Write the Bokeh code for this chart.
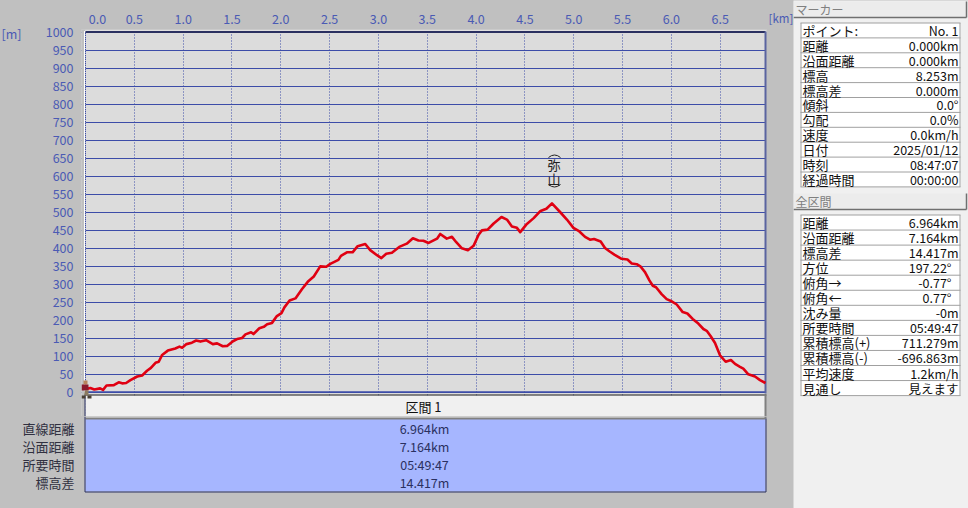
from bokeh.plotting import figure
from bokeh.layouts import row, column
from bokeh.models import Range1d, FixedTicker, Label, NumeralTickFormatter
from bokeh.core.properties import value
from bokeh.embed import file_html
from bokeh.resources import INLINE

# ---- data ----
km = [0,.05,.09,.15,.18,.215,.29,.34,.375,.416,.46,.53,.58,.63,.67,.717,.75,.785,.843,.92,.962,.99,
      1.034,1.09,1.133,1.177,1.235,1.304,1.348,1.406,1.45,1.51,1.553,1.604,1.638,1.696,1.72,1.78,1.826,
      1.86,1.91,1.96,2.007,2.037,2.09,2.15,2.218,2.276,2.338,2.404,2.466,2.507,2.59,2.616,2.677,2.735,
      2.787,2.865,2.916,2.985,3.03,3.08,3.138,3.213,3.29,3.353,3.41,3.46,3.514,3.6,3.633,3.7,3.753,
      3.797,3.855,3.916,3.974,4.026,4.06,4.118,4.18,4.26,4.316,4.367,4.418,4.452,4.514,4.59,4.66,4.72,
      4.777,4.86,4.93,4.997,5.058,5.116,5.167,5.208,5.276,5.32,5.365,5.42,5.49,5.55,5.594,5.645,5.686,
      5.73,5.775,5.81,5.843,5.9,5.952,6.003,6.055,6.116,6.164,6.218,6.276,6.328,6.362,6.403,6.447,6.474,
      6.498,6.556,6.61,6.652,6.703,6.737,6.788,6.857,6.908,6.964]
elev = [8,11,7,10,6,18,19,27,24,25,33,43,46,59,67,81,84,103,115,121,126,123,
        133,137,143,140,144,133,135,127,128,141,147,150,160,166,161,177,181,
        188,192,211,219,235,254,260,286,306,321,349,348,356,367,378,388,388,
        405,411,394,380,372,384,387,403,412,427,421,420,414,426,439,426,431,
        416,399,394,406,437,449,451,468,486,479,460,456,444,465,483,503,509,
        524,500,479,456,446,431,423,425,418,400,391,381,370,368,357,355,348,
        333,310,295,291,272,258,252,243,222,218,203,190,175,170,155,136,118,
        102,84,89,78,70,65,49,43,33,25]
x_ticks = [0,.5,1,1.5,2,2.5,3,3.5,4,4.5,5,5.5,6,6.5]
y_ticks = list(range(0,1001,50))
peak_name = ["弥","山"]

section_title = "区間 1"
section_labels = ["直線距離","沿面距離","所要時間","標高差"]
section_values = ["6.964km","7.164km","05:49:47","14.417m"]

marker_title = "マーカー"
marker_labels = ["ポイント:","距離","沿面距離","標高","標高差","傾斜","勾配","速度","日付","時刻","経過時間"]
marker_values = ["No. 1","0.000km","0.000km","8.253m","0.000m","0.0°","0.0%","0.0km/h","2025/01/12","08:47:07","00:00:00"]
total_title = "全区間"
total_labels = ["距離","沿面距離","標高差","方位","俯角→","俯角←","沈み量","所要時間","累積標高(+)","累積標高(-)","平均速度","見通し"]
total_values = ["6.964km","7.164km","14.417m","197.22°","-0.77°","0.77°","-0m","05:49:47","711.279m","-696.863m","1.2km/h","見えます"]
total_inset = [0,0,0,7,7,7,0,0,0,0,0,0]

# ---- style ----
GREY="#c0c0c0"; PANEL="#f0f0f0"; PLOT="#dcdcdc"; BLUE="#3c4ca8"; TICK="#4a5ab4"; NAVY="#2a3060"
CJK="Noto Sans CJK JP"; NUM="Noto Sans CJK JP"; NUMSIZE="12.5px"
BOT=416   # page row where the chart block ends and the section table begins

def blank(w,h,xr,yr,bg):
    f=figure(width=w,height=h,x_range=Range1d(*xr),y_range=Range1d(*yr),output_backend="svg",
             toolbar_location=None,min_border=0,background_fill_color=bg,border_fill_color=bg,outline_line_color=None)
    f.axis.visible=False; f.grid.visible=False; f.frame_align=False
    return f

# ---- chart: page-pixel helpers for the frame furniture ----
KPP=max(km)/680; MPP=1000/360
xp=lambda px:(px-85)*KPP
yp=lambda py:(391.5-py)*MPP

p=figure(width=737,height=BOT,frame_width=686,frame_height=BOT-29,
         x_range=Range1d(xp(81),xp(767)),y_range=Range1d(yp(BOT),yp(29)),
         x_axis_location="above",output_backend="svg",toolbar_location=None,
         min_border_left=51,min_border_right=0,min_border_top=29,min_border_bottom=0,
         background_fill_color=PLOT,border_fill_color=GREY,outline_line_color=None)
p.frame_align=False
zero_lab=xp(97)
p.xaxis[0].ticker=FixedTicker(ticks=[zero_lab]+x_ticks[1:])
p.xaxis[0].formatter=NumeralTickFormatter(format="0.0")
p.xaxis[0].major_label_overrides={zero_lab:"0.0"}
p.yaxis[0].ticker=FixedTicker(ticks=y_ticks)
for ax in (p.xaxis[0],p.yaxis[0]):
    ax.major_tick_line_color=None; ax.minor_tick_line_color=None; ax.major_tick_out=0; ax.major_tick_in=0
    ax.axis_line_color=None
    ax.major_label_text_color=TICK; ax.major_label_text_font=NUM; ax.major_label_text_font_size=NUMSIZE
p.xaxis[0].major_label_standoff=6
p.yaxis[0].major_label_standoff=8
p.ygrid.ticker=FixedTicker(ticks=y_ticks); p.ygrid.grid_line_color=BLUE; p.ygrid.grid_line_width=1
p.xgrid.ticker=FixedTicker(ticks=x_ticks); p.xgrid.grid_line_color=BLUE; p.xgrid.grid_line_dash="1 2"; p.xgrid.grid_line_width=1

# covers that hide the grid where the frame runs past the plot area
p.quad(left=xp(81),right=0,top=yp(29),bottom=yp(BOT),fill_color=GREY,line_color=None)
p.quad(left=xp(81),right=xp(767),top=yp(29),bottom=1000,fill_color=GREY,line_color=None)
p.quad(left=max(km),right=xp(767),top=yp(29),bottom=yp(BOT),fill_color=GREY,line_color=None)
p.quad(left=0,right=max(km),top=yp(395),bottom=yp(BOT),fill_color=PANEL,line_color=None)
p.segment(xp(84.5),yp(30.5),xp(766),yp(30.5),line_color="white",line_width=1)
p.segment(xp(84),yp(30.5),xp(84),yp(392),line_color="white",line_width=1)
p.segment(0,0,0,1000,line_color=BLUE,line_dash="1 1",line_width=1)
p.segment(0,1000,max(km),1000,line_color=NAVY,line_width=2)
p.segment(0,0,max(km),0,line_color=BLUE,line_width=1.5)
p.segment(max(km),yp(31),max(km),yp(393),line_color="#5a64a0",line_width=2)
p.segment(xp(84),yp(394.5),xp(766),yp(394.5),line_color="#202020",line_width=1)
p.segment(xp(84.5),yp(395),xp(84.5),yp(BOT),line_color=NAVY,line_width=1)
p.segment(max(km),yp(395),max(km),yp(BOT),line_color="#808080",line_width=2)

p.line(km,elev,line_color="#e00012",line_width=2.6,line_join="round")

pk=elev.index(max(elev))
for ch,yo in zip(peak_name,(39,25)):
    p.add_layout(Label(x=km[pk],y=elev[pk],x_offset=2,y_offset=yo,text=ch,text_color="#202020",text_font=CJK,
                       text_font_size="13px",text_align="center",text_baseline="middle"))
# the arcs that close the vertical name
for ends,ctrl in ((157,152),(184,189)):
    p.quadratic(x0=xp(548),y0=yp(ends),x1=xp(560),y1=yp(ends),cx=xp(554),cy=yp(ctrl),line_color="#202020",line_width=1)

# hiker sprite
for l,r,t_,b,c in ((83,87,380,384,"#b8845c"),(81,88,384,390,"#8a1a2c"),(84,88,390,395,"#8a7a60"),
                   (81,85,395,398,"#4a4034"),(87,91,395,398,"#4a4034")):
    p.quad(left=xp(l),right=xp(r),top=yp(t_),bottom=yp(b),fill_color=c,line_color=None)

# section title sits on the light band, which belongs to the chart block
p.add_layout(Label(x=xp(423),y=yp(406),text=section_title,text_color="#101010",text_font=CJK,text_font_size="13px",
                   text_align="center",text_baseline="middle"))

# ---- unit labels either side of the chart ----
sl=blank(30,BOT,(0,30),(BOT,0),GREY)
sl.text([1],[33],text=["[m]"],text_font=value(NUM),text_font_size=NUMSIZE,text_color=TICK,text_align="left",text_baseline="middle")
sr=blank(26,BOT,(767,793),(BOT,0),GREY)
sr.text([768],[17],text=["[km]"],text_font=value(NUM),text_font_size="11.5px",text_color=TICK,text_align="left",text_baseline="middle")

# ---- section table under the chart ----
t=blank(793,508-BOT,(0,793),(508,BOT),GREY)
t.quad(left=85,right=765,top=BOT,bottom=418,fill_color=PANEL,line_color=None)
t.quad(left=85,right=765,top=418,bottom=491,fill_color="#a6b6ff",line_color=None)
t.segment(85,418,765,418,line_color="#808080",line_width=2)
t.segment(765,BOT,765,418,line_color="#808080",line_width=2)
t.multi_line([[84.5,84.5,765.5,765.5]],[[BOT,491.5,491.5,418]],line_color=NAVY,line_width=1)
ys=[428,446,464,482]
t.text([74]*4,ys,text=section_labels,text_font=value(CJK),text_font_size="13px",text_color="#303040",
       text_align="right",text_baseline="middle")
t.text([424]*4,ys,text=section_values,text_font=value(NUM),text_font_size=NUMSIZE,text_color="#2a3060",
       text_align="center",text_baseline="middle")

# ---- right panel ----
s=blank(175,508,(793,968),(508,0),PANEL)
def header(top,bottom,text):
    s.quad(left=793,right=966,top=top,bottom=bottom,fill_color="#ececec",line_color=None)
    s.segment(793,bottom,966,bottom,line_color="#707070",line_width=1.5)
    s.segment(966,top,966,bottom,line_color="#707070",line_width=1.5)
    s.text([795],[(top+bottom)/2],text=[text],text_font=value(CJK),text_font_size="12px",text_color="#808080",
           text_align="left",text_baseline="middle")
def table(top,rowh,labels,vals,insets):
    n=len(labels)
    s.quad(left=800,right=960,top=top,bottom=top+n*rowh,fill_color="white",line_color=None)
    for i in range(n+1):
        s.segment(800,top+i*rowh,960,top+i*rowh,line_color="#a0a0a0",line_width=1)
    s.segment(800.5,top,800.5,top+n*rowh,line_color="#a0a0a0",line_width=1)
    s.segment(959.5,top,959.5,top+n*rowh,line_color="#a0a0a0",line_width=1)
    cy=[top+(i+.5)*rowh for i in range(n)]
    s.text([802]*n,cy,text=labels,text_font=value(CJK),text_font_size="13px",text_color="#101010",
           text_align="left",text_baseline="middle")
    s.text([958-d for d in insets],cy,text=vals,text_font=value(NUM),text_font_size=NUMSIZE,text_color="#101010",
           text_align="right",text_baseline="middle")
header(1,17,marker_title)
table(22.5,14.9,marker_labels,marker_values,[0]*11)
header(193,209,total_title)
table(214.5,15.05,total_labels,total_values,total_inset)

page={"background":GREY}
layout=row(column(row(sl,p,sr,spacing=0,styles=page),t,spacing=0,styles=page),s,spacing=0,styles=page)
open("out.html","w").write(file_html(layout,INLINE))
